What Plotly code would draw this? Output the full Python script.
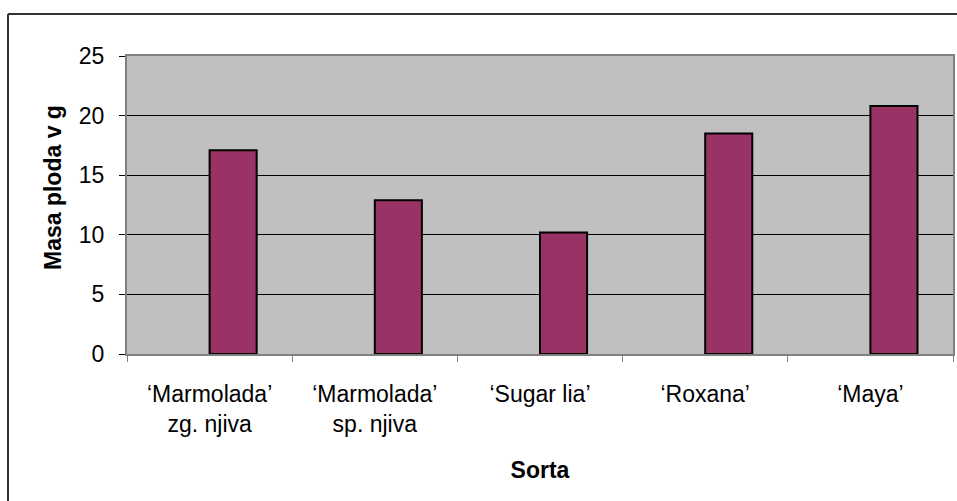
import plotly.graph_objects as go

categories = ["‘Marmolada’<br>zg. njiva", "‘Marmolada’<br>sp. njiva", "‘Sugar lia’", "‘Roxana’", "‘Maya’"]
masa = [17.1, 12.9, 10.2, 18.5, 20.8]
empty_series = [None, None, None, None, None]

font_family = "Liberation Sans, Arial, sans-serif"
fs = 23

fig = go.Figure()
fig.add_trace(go.Bar(x=categories, y=empty_series, showlegend=False, hoverinfo="skip",
                     marker=dict(color="rgba(0,0,0,0)")))
fig.add_trace(go.Bar(x=categories, y=masa, showlegend=False,
                     marker=dict(color="#993366", line=dict(color="black", width=2))))

fig.update_layout(
    width=957, height=501,
    margin=dict(l=127, r=4, t=56, b=147),
    paper_bgcolor="white",
    plot_bgcolor="#C0C0C0",
    barmode="group",
    bargap=0.43,
    bargroupgap=0,
    font=dict(family=font_family, size=fs, color="black"),
    xaxis=dict(
        type="category",
        tickson="boundaries",
        ticks="outside", ticklen=6, tickcolor="#808080", tickwidth=1,
        showline=True, linecolor="#808080", linewidth=2, mirror=True,
        showgrid=False,
        ticklabelstandoff=18,
        tickfont=dict(size=fs, family=font_family),
        title=dict(text="<b>Sorta</b>", font=dict(size=fs, family=font_family), standoff=26),
        automargin=False,
    ),
    yaxis=dict(
        range=[0, 25], dtick=5, tick0=0,
        ticks="outside", ticklen=6, tickcolor="black", tickwidth=1,
        showline=True, linecolor="#808080", linewidth=2, mirror=True,
        showgrid=True, gridcolor="black", gridwidth=1,
        zeroline=False,
        ticklabelstandoff=10,
        tickfont=dict(size=fs, family=font_family),
        automargin=False,
    ),
    annotations=[
        dict(text="<b>Masa ploda v g</b>", textangle=-90, xref="paper", yref="paper",
             x=(53 - 127) / 826, y=1 - (188 - 56) / 298, xanchor="center", yanchor="middle",
             showarrow=False, font=dict(size=fs, family=font_family, color="black")),
    ],
    shapes=[
        dict(type="line", xref="paper", yref="paper", x0=(8 - 127) / 826, x1=(8 - 127) / 826,
             y0=1 + 42 / 298, y1=-1, line=dict(color="#333333", width=2)),
        dict(type="line", xref="paper", yref="paper", x0=(8 - 127) / 826, x1=1.1,
             y0=1 + 42 / 298, y1=1 + 42 / 298, line=dict(color="#333333", width=2)),
    ],
)

fig.write_html("out.html")
